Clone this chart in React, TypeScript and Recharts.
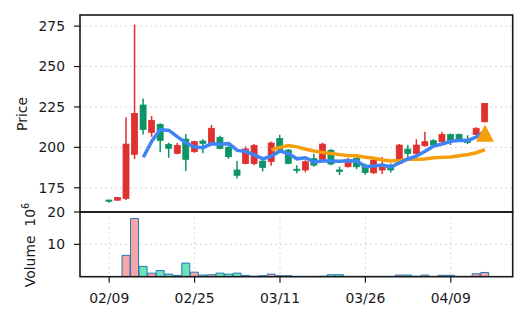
import React from 'react';
import { ComposedChart, Bar, Line, Scatter, XAxis, YAxis, CartesianGrid, Cell } from 'recharts';

// x positions are trading-day indexes, ticks every 10 sessions
const tickPos = [0, 10, 20, 30, 40];
const tickLabels = ['02/09', '02/25', '03/11', '03/26', '04/09'];
const priceTicks = [175, 200, 225, 250, 275];
const volTicks = [10, 20];

const opens = [
  167.4, 167.3, 168.4, 195.7, 226.2, 209.3, 214.2, 201.9, 196.3, 205.1,
  197.3, 203.9, 202.8, 206.2, 200.0, 186.0, 190.0, 190.0, 191.5, 191.3,
  205.5, 198.3, 186.5, 186.0, 193.0, 192.6, 198.2, 186.0, 188.0, 193.2,
  189.0, 184.3, 186.0, 189.0, 190.1, 198.9, 196.3, 201.0, 204.1, 203.5,
  208.0, 208.0, 204.5, 208.0, 215.8,
];
const highs = [
  167.6, 169.3, 218.6, 276.0, 230.3, 219.4, 214.9, 202.9, 202.9, 208.2,
  204.1, 205.0, 213.8, 207.2, 200.8, 191.5, 200.5, 202.0, 192.0, 203.7,
  207.8, 199.0, 189.0, 192.0, 196.0, 202.8, 199.0, 188.0, 193.5, 194.0,
  190.0, 193.0, 194.0, 190.0, 202.0, 201.4, 205.0, 209.7, 205.0, 209.7,
  208.5, 208.5, 207.5, 212.5, 227.5,
];
const lows = [
  165.8, 167.0, 167.4, 192.8, 208.0, 206.6, 196.9, 193.6, 195.8, 185.3,
  196.7, 196.3, 202.0, 198.8, 192.9, 180.8, 189.5, 189.0, 185.0, 188.6,
  197.5, 189.5, 184.0, 184.6, 188.0, 192.0, 189.0, 182.9, 187.5, 186.5,
  183.0, 183.5, 183.5, 184.5, 189.5, 193.2, 195.0, 200.5, 200.5, 202.8,
  201.4, 203.5, 202.0, 207.5, 215.5,
];
const closes = [
  166.8, 169.0, 202.0, 221.0, 211.1, 216.7, 204.3, 199.4, 201.2, 192.6,
  203.5, 202.5, 211.8, 199.4, 194.2, 182.7, 199.0, 201.2, 187.6, 202.7,
  198.5, 190.1, 185.7, 191.1, 189.0, 202.0, 189.7, 185.0, 192.6, 188.0,
  184.5, 192.0, 188.5, 186.0, 201.4, 196.3, 201.4, 203.5, 201.4, 208.0,
  204.5, 204.5, 203.0, 211.8, 227.2,
];
// volume in millions
const volumes = [
  0, 0, 6.6, 18.0, 3.2, 1.1, 1.9, 0.8, 0.4, 4.2,
  1.4, 0.5, 0.6, 1.1, 0.8, 1.1, 0.4, 0.15, 0.3, 0.8,
  0.3, 0.3, 0.1, 0.1, 0.1, 0.15, 0.6, 0.6, 0.1, 0.1,
  0.1, 0.1, 0.1, 0.1, 0.5, 0.5, 0.15, 0.5, 0.1, 0.45,
  0.45, 0.1, 0.1, 0.9, 1.3,
];
const ma5 = [
  null, null, null, null, 193.9, 203.9, 211.0, 210.5, 206.5, 202.8,
  200.2, 199.8, 202.3, 202.0, 202.3, 198.1, 197.4, 195.3, 192.9, 194.6,
  197.8, 196.0, 192.9, 193.6, 190.9, 191.6, 191.5, 191.4, 191.7, 191.5,
  188.0, 188.4, 189.1, 187.8, 190.5, 192.8, 194.7, 197.6, 200.8, 202.1,
  203.8, 204.4, 204.3, 206.4, 210.2,
];
const ma20 = [
  null, null, null, null, null, null, null, null, null, null,
  null, null, null, null, null, null, null, null, null, 198.4,
  200.0, 201.1, 200.3, 198.8, 197.7, 196.9, 196.2, 195.5, 195.0, 194.8,
  193.9, 193.3, 192.2, 191.5, 191.9, 192.6, 192.7, 192.8, 193.5, 193.8,
  194.1, 194.8, 195.6, 196.7, 198.6,
];
const signals = [{ i: 44, price: 208.8 }];

const RED = '#e0302f';
const GREEN = '#0c9466';
const RED_VOL = '#f7a6a6';
const GREEN_VOL = '#6de3b6';
const BLUE = '#3d84f4';
const ORANGE = '#f59e0b';
const INK = '#1a1a1a';
const FONT = 'DejaVu Sans';

const data = opens.map((o, i) => ({
  i,
  open: o,
  high: highs[i],
  low: lows[i],
  close: closes[i],
  vol: volumes[i],
  ma5: ma5[i],
  ma20: ma20[i],
  up: closes[i] >= o,
}));

const xDomain: [number, number] = [-3.42, 47.25];
const labelFor = (v: number) => tickLabels[tickPos.indexOf(v)] ?? '';
const tickStyle = { fontSize: 13.9, fill: INK, fontFamily: FONT };

const Candle = (props: any) => {
  const { x, y, width, height, payload } = props;
  if (x == null || !payload) return null;
  const top = Math.min(y, y + height);
  const h = Math.abs(height);
  const k = h / (payload.high - payload.low);
  const py = (p: number) => top + (payload.high - p) * k;
  const color = payload.up ? RED : GREEN;
  const cx = x + width / 2;
  const bodyTop = py(Math.max(payload.open, payload.close));
  const bodyH = Math.max(py(Math.min(payload.open, payload.close)) - bodyTop, 1.2);
  return (
    <g>
      <line x1={cx} x2={cx} y1={top} y2={top + h} stroke={color} strokeWidth={1.5} />
      <rect x={cx - 3} y={bodyTop} width={6} height={bodyH} fill={color} stroke={color} strokeWidth={0.8} />
    </g>
  );
};

const Triangle = (props: any) => {
  const { cx, cy } = props;
  if (cx == null) return null;
  return <polygon points={`${cx},${cy - 8.7} ${cx - 9},${cy + 8.7} ${cx + 9},${cy + 8.7}`} fill={ORANGE} />;
};

export default function App() {
  return (
    <div style={{ position: 'absolute', left: 0, top: 0, width: 528, height: 322, background: '#fff' }}>
      <div style={{ position: 'absolute', left: 0, top: 0 }}>
        <ComposedChart width={528} height={212} data={data} margin={{ top: 15, right: 15.3, bottom: 0, left: 0 }}>
          <CartesianGrid stroke="#d8d8d8" strokeDasharray="2 3" />
          <XAxis
            dataKey="i"
            type="number"
            domain={xDomain}
            allowDataOverflow
            ticks={tickPos}
            height={0}
            tick={false}
            axisLine={false}
            tickLine={false}
          />
          <YAxis
            type="number"
            domain={[160, 281.9]}
            allowDataOverflow
            ticks={priceTicks}
            width={80}
            axisLine={false}
            tickLine={{ stroke: INK, strokeWidth: 1.2 }}
            tickSize={6}
            tickMargin={9}
            tick={tickStyle}
          />
          <Bar
            dataKey={(d: any) => [d.low, d.high]}
            barSize={6}
            shape={<Candle />}
            isAnimationActive={false}
          />
          <Line dataKey="ma20" stroke={ORANGE} strokeWidth={3.5} dot={false} isAnimationActive={false} />
          <Line dataKey="ma5" stroke={BLUE} strokeWidth={3.5} dot={false} isAnimationActive={false} />
          <Scatter data={signals} dataKey="price" shape={<Triangle />} isAnimationActive={false} />
        </ComposedChart>
      </div>
      <div style={{ position: 'absolute', left: 0, top: 0 }}>
        <ComposedChart width={528} height={322} data={data} margin={{ top: 212, right: 15.3, bottom: 15.3, left: 0 }}>
          <CartesianGrid stroke="#d8d8d8" strokeDasharray="2 3" />
          <XAxis
            dataKey="i"
            type="number"
            domain={xDomain}
            allowDataOverflow
            ticks={tickPos}
            tickFormatter={labelFor}
            height={30}
            axisLine={false}
            tickLine={{ stroke: INK, strokeWidth: 1.2 }}
            tickSize={6}
            tickMargin={10}
            tick={tickStyle}
          />
          <YAxis
            type="number"
            domain={[0, 20]}
            allowDataOverflow
            ticks={volTicks}
            width={80}
            axisLine={false}
            tickLine={{ stroke: INK, strokeWidth: 1.2 }}
            tickSize={6}
            tickMargin={9}
            tick={tickStyle}
          />
          <Bar dataKey="vol" barSize={8} stroke="#2577b6" strokeWidth={1} isAnimationActive={false}>
            {data.map((d, idx) => (
              <Cell key={`v-${idx}`} fill={d.up ? RED_VOL : GREEN_VOL} />
            ))}
          </Bar>
        </ComposedChart>
      </div>
      <svg width={528} height={322} style={{ position: 'absolute', left: 0, top: 0, pointerEvents: 'none' }}>
        <rect x={80} y={15} width={432.7} height={197} fill="none" stroke={INK} strokeWidth={1.6} />
        <rect x={80} y={212} width={432.7} height={64.7} fill="none" stroke={INK} strokeWidth={1.6} />
        <text x={26.5} y={114} transform="rotate(-90 26.5 114)" textAnchor="middle" fontSize={13.9} fontFamily={FONT} fill={INK}>
          Price
        </text>
        <text x={34.5} y={245} transform="rotate(-90 34.5 245)" textAnchor="middle" fontSize={13.9} fontFamily={FONT} fill={INK}>
          Volume{'\u00a0\u00a0'}10<tspan dy={-6} fontSize={9.7}>6</tspan>
        </text>
      </svg>
    </div>
  );
}
